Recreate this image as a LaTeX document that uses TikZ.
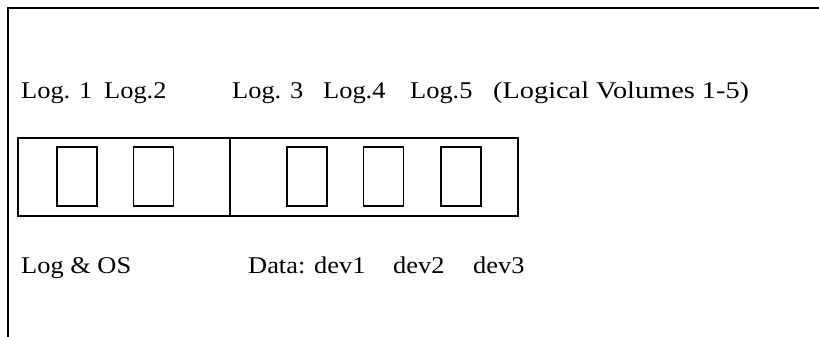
\documentclass[tikz,border=0pt]{standalone}
\usepackage{fontspec}
\setmainfont{Liberation Serif}
\newfontfamily\widefont[FakeStretch = 1.1]{Liberation Serif}
\newfontfamily\widerfont[FakeStretch = 1.18]{Liberation Serif}
\tikzset{
	lbl/.style = {anchor = base west, inner sep = 0pt, font = \widefont\fontsize{24}{28}\selectfont},
	note/.style = {lbl, font = \widerfont\fontsize{24}{28}\selectfont},
	part/.style = {draw, line width = 1.2pt, minimum height = 78pt, inner sep = 0pt},
	vol/.style = {draw, line width = 1.2pt, minimum width = 40pt, minimum height = 59pt, inner sep = 0pt}
}

\begin{document}
\begin{tikzpicture}[x = 1pt, y = -1pt]
		\useasboundingbox (0, 0) rectangle (819, 337);
		%%%%%%%%%%%%%
		\coordinate (tl) at (8, 8);
		\coordinate (tr) at (819, 8);
		\coordinate (bl) at (8, 337);
		\draw [line width = 2.2pt] (tr) -- (tl) -- (bl);
		%%%%%%%%%%%%%
		\node (log1) at (21, 98) [lbl] {Log. 1};
		\node (log2) at (104, 98) [lbl] {Log.2};
		\node (log3) at (232, 98) [lbl] {Log. 3};
		\node (log4) at (323, 98) [lbl] {Log.4};
		\node (log5) at (410, 98) [lbl] {Log.5};
		\node (vols) at (493, 98) [note] {(Logical Volumes 1-5)};
		%%%%%%%%%%%%%
		\node (os) at (124, 177) [part, minimum width = 212pt] {};
		\node (data) at (374, 177) [part, minimum width = 288pt] {};
		\node (v1) at (77, 176.5) [vol] {};
		\node (v2) at (153.5, 176.5) [vol] {};
		\node (v3) at (307, 176.5) [vol] {};
		\node (v4) at (383.5, 176.5) [vol] {};
		\node (v5) at (461, 176.5) [vol] {};
		%%%%%%%%%%%%%
		\node (logos) at (21, 273) [lbl] {Log \& OS};
		\node (dev1) at (248, 273) [lbl] {Data: dev1};
		\node (dev2) at (393, 273) [lbl] {dev2};
		\node (dev3) at (473, 273) [lbl] {dev3};
\end{tikzpicture}
\end{document}
